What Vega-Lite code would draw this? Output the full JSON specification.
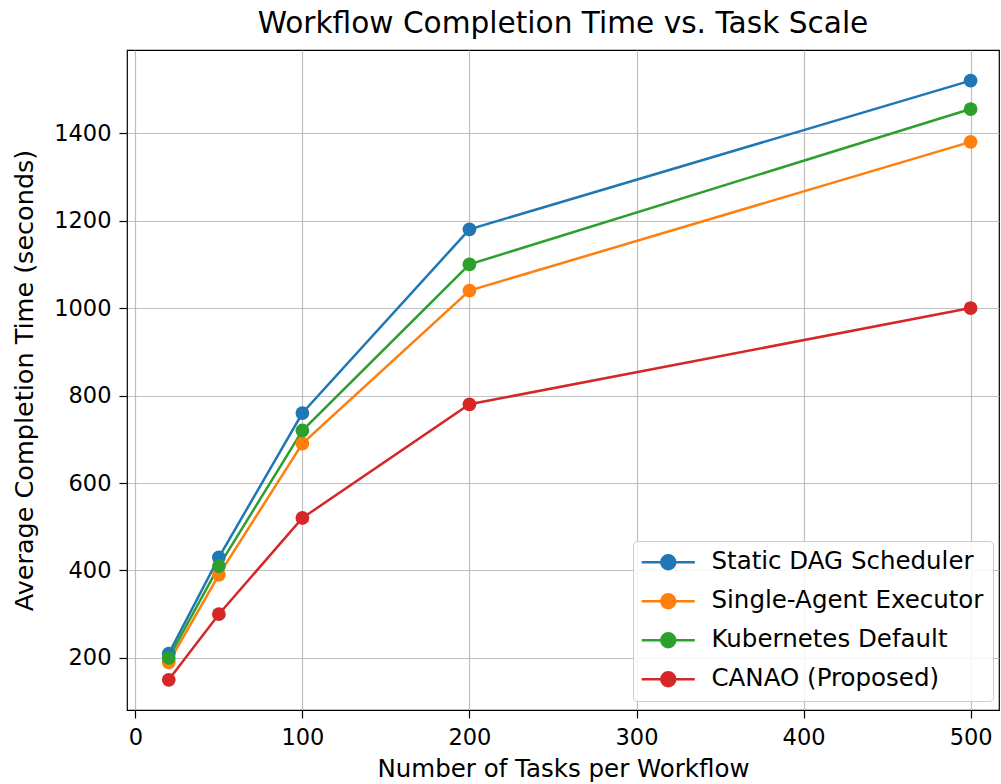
{
  "$schema": "https://vega.github.io/schema/vega-lite/v6.json",
  "autosize": {"type": "none"},
  "padding": {"left": 127, "top": 50, "right": 2, "bottom": 74},
  "width": 872,
  "height": 660,
  "background": "white",
  "title": {"text": "Workflow Completion Time vs. Task Scale", "fontSize": 29.6, "font": "DejaVu Sans", "fontWeight": "normal", "color": "#000000", "offset": 10, "anchor": "middle"},
  "config": {
    "view": {"stroke": "#000000", "strokeWidth": 1.2},
    "font": "DejaVu Sans",
    "axis": {"labelFont": "DejaVu Sans", "titleFont": "DejaVu Sans", "labelColor": "#000000", "titleColor": "#000000", "labelFontSize": 22.5, "titleFontSize": 24.5, "titleFontWeight": "normal", "gridColor": "#b0b0b0", "gridWidth": 1.2, "gridOpacity": 0.8, "domain": false, "tickColor": "#000000", "tickSize": 8, "tickWidth": 1.2}
  },
  "data": {"values": [
    {"tasks": 20, "time": 210, "method": "Static DAG Scheduler"},
    {"tasks": 50, "time": 430, "method": "Static DAG Scheduler"},
    {"tasks": 100, "time": 760, "method": "Static DAG Scheduler"},
    {"tasks": 200, "time": 1180, "method": "Static DAG Scheduler"},
    {"tasks": 500, "time": 1520, "method": "Static DAG Scheduler"},
    {"tasks": 20, "time": 190, "method": "Single-Agent Executor"},
    {"tasks": 50, "time": 390, "method": "Single-Agent Executor"},
    {"tasks": 100, "time": 690, "method": "Single-Agent Executor"},
    {"tasks": 200, "time": 1040, "method": "Single-Agent Executor"},
    {"tasks": 500, "time": 1380, "method": "Single-Agent Executor"},
    {"tasks": 20, "time": 200, "method": "Kubernetes Default"},
    {"tasks": 50, "time": 410, "method": "Kubernetes Default"},
    {"tasks": 100, "time": 720, "method": "Kubernetes Default"},
    {"tasks": 200, "time": 1100, "method": "Kubernetes Default"},
    {"tasks": 500, "time": 1455, "method": "Kubernetes Default"},
    {"tasks": 20, "time": 150, "method": "CANAO (Proposed)"},
    {"tasks": 50, "time": 300, "method": "CANAO (Proposed)"},
    {"tasks": 100, "time": 520, "method": "CANAO (Proposed)"},
    {"tasks": 200, "time": 780, "method": "CANAO (Proposed)"},
    {"tasks": 500, "time": 1000, "method": "CANAO (Proposed)"}
  ]},
  "encoding": {
    "x": {"field": "tasks", "type": "quantitative", "scale": {"domain": [-5, 517], "nice": false, "zero": false}, "axis": {"values": [0, 100, 200, 300, 400, 500], "format": "d", "title": "Number of Tasks per Workflow", "titlePadding": 9, "labelPadding": 8}},
    "y": {"field": "time", "type": "quantitative", "scale": {"domain": [81, 1590], "nice": false, "zero": false}, "axis": {"values": [200, 400, 600, 800, 1000, 1200, 1400], "format": "d", "title": "Average Completion Time (seconds)", "titleFontSize": 25.5, "titlePadding": 16, "labelPadding": 8}},
    "color": {"field": "method", "type": "nominal", "scale": {"domain": ["Static DAG Scheduler", "Single-Agent Executor", "Kubernetes Default", "CANAO (Proposed)"], "range": ["#1f77b4", "#ff7f0e", "#2ca02c", "#d62728"]},
      "legend": {
       "title": null, "orient": "none", "legendX": 506, "legendY": 491,
       "fillColor": "rgba(255,255,255,0.85)", "strokeColor": "#cccccc", "cornerRadius": 4, "padding": 9,
       "labelFontSize": 24.5, "labelFont": "DejaVu Sans", "labelColor": "#000000", "labelLimit": 0,
       "symbolType": "M-2.5,0L2.5,0M-0.66,0A0.66,0.66 0 1,1 0.66,0A0.66,0.66 0 1,1 -0.66,0Z",
       "symbolSize": 450, "symbolStrokeWidth": 2.5, "symbolOpacity": 1, "rowPadding": 13, "labelOffset": 31, "symbolOffset": 14,
       "encode": {"symbols": {"update": {"stroke": {"scale": "color", "field": "value"}, "fill": {"scale": "color", "field": "value"}, "strokeWidth": {"value": 2.5}}}}
     }}
  },
  "layer": [
    {"mark": {"type": "line", "strokeWidth": 2.5}},
    {"mark": {"type": "point", "filled": true, "size": 190, "opacity": 1}}
  ]
}
